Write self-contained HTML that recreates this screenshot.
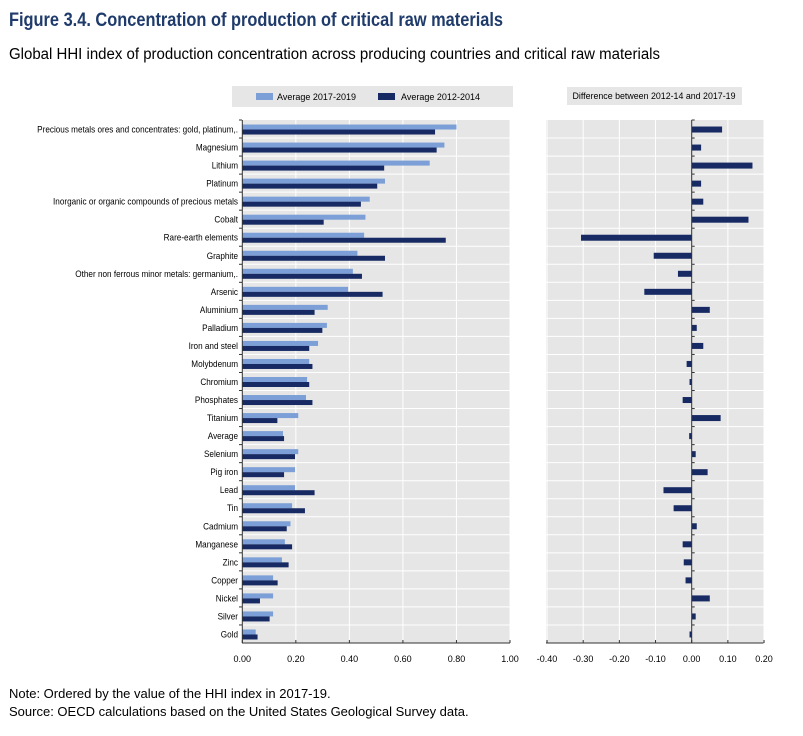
<!DOCTYPE html>
<html><head><meta charset="utf-8"><style>
body{margin:0;background:#fff;}
svg{display:block;font-family:"Liberation Sans",Arial,sans-serif;}
</style></head><body>
<svg id="chart" width="803" height="736" viewBox="0 0 803 736">
<text x="9" y="26" font-size="19" font-weight="bold" fill="#1f3b6b" textLength="494" lengthAdjust="spacingAndGlyphs">Figure 3.4. Concentration of production of critical raw materials</text>
<text x="9" y="59" font-size="15.5" fill="#000" textLength="651" lengthAdjust="spacingAndGlyphs">Global HHI index of production concentration across producing countries and critical raw materials</text>
<rect x="232" y="86" width="281" height="21" fill="#e6e6e6"/>
<rect x="256" y="93" width="17" height="7" fill="#7b9fd6"/>
<text x="277" y="100" font-size="9" textLength="79" lengthAdjust="spacingAndGlyphs">Average 2017-2019</text>
<rect x="378" y="93" width="17" height="7" fill="#172a63"/>
<text x="401" y="100" font-size="9" textLength="79" lengthAdjust="spacingAndGlyphs">Average 2012-2014</text>
<rect x="567" y="87" width="175" height="18" fill="#e6e6e6"/>
<text x="654" y="99" font-size="9" text-anchor="middle" textLength="163" lengthAdjust="spacingAndGlyphs">Difference between 2012-14 and 2017-19</text>
<g id="left"></g>
<g id="right"></g>
<text x="9" y="698" font-size="13">Note: Ordered by the value of the HHI index in 2017-19.</text>
<text x="9" y="716" font-size="13">Source: OECD calculations based on the United States Geological Survey data.</text>
</svg>
<script>
const categories = ["Precious metals ores and concentrates: gold, platinum,.","Magnesium","Lithium","Platinum","Inorganic or organic compounds of precious metals","Cobalt","Rare-earth elements","Graphite","Other non ferrous minor metals: germanium,.","Arsenic","Aluminium","Palladium","Iron and steel","Molybdenum","Chromium","Phosphates","Titanium","Average","Selenium","Pig iron","Lead","Tin","Cadmium","Manganese","Zinc","Copper","Nickel","Silver","Gold"];
const avg2017_2019 = [0.80,0.755,0.70,0.533,0.476,0.46,0.455,0.43,0.413,0.395,0.319,0.316,0.283,0.25,0.242,0.238,0.209,0.152,0.209,0.197,0.197,0.186,0.18,0.159,0.148,0.115,0.115,0.115,0.05];
const avg2012_2014 = [0.72,0.726,0.53,0.504,0.443,0.304,0.76,0.533,0.447,0.524,0.27,0.299,0.25,0.262,0.25,0.262,0.131,0.156,0.197,0.156,0.27,0.234,0.166,0.186,0.173,0.132,0.066,0.102,0.057];
const difference = [0.084,0.026,0.168,0.026,0.032,0.157,-0.306,-0.105,-0.038,-0.131,0.05,0.014,0.032,-0.014,-0.006,-0.025,0.08,-0.007,0.011,0.044,-0.078,-0.05,0.014,-0.025,-0.022,-0.017,0.05,0.011,-0.006];
const leftTicks = [0,0.2,0.4,0.6,0.8,1.0];
const rightTicks = [-0.4,-0.3,-0.2,-0.1,0,0.1,0.2];

const NS="http://www.w3.org/2000/svg";
function mk(parent,tag,attrs){const e=document.createElementNS(NS,tag);for(const k in attrs)e.setAttribute(k,attrs[k]);parent.appendChild(e);return e;}
const top0=120, bottom0=643, rowH=(bottom0-top0)/categories.length;
const xL=v=>242.3+v*267.7;
const xR=v=>691.7+v*361.7;
const yRow=i=>top0+i*rowH;
const L=document.getElementById('left'), R=document.getElementById('right');

// backgrounds
let bg=mk(L,'rect',{x:242,y:top0,width:268,height:bottom0-top0,fill:'#e6e6e6'});


bg=mk(R,'rect',{x:546,y:top0,width:217.5,height:bottom0-top0,fill:'#e6e6e6'});



// grid
leftTicks.forEach(t=>{if(t>0){const g=mk(L,'line',{x1:xL(t),x2:xL(t),y1:top0,y2:bottom0,stroke:'#fff','stroke-width':1});

}});
rightTicks.forEach(t=>{if(t!==0){const g=mk(R,'line',{x1:xR(t),x2:xR(t),y1:top0,y2:bottom0,stroke:'#fff','stroke-width':1});

}});
for(let i=1;i<categories.length;i++){
  let g=mk(L,'line',{x1:242,x2:510,y1:yRow(i),y2:yRow(i),stroke:'#fff','stroke-width':1});
  
  
  g=mk(R,'line',{x1:546,x2:763.5,y1:yRow(i),y2:yRow(i),stroke:'#fff','stroke-width':1});
  
  
}

// bars & labels
categories.forEach((c,i)=>{
  const yc=yRow(i)+rowH/2+0.5;
  let b=mk(L,'rect',{x:xL(0),y:yc-5,width:xL(avg2017_2019[i])-xL(0),height:5,fill:'#7b9fd6'});
  
  
  b=mk(L,'rect',{x:xL(0),y:yc,width:xL(avg2012_2014[i])-xL(0),height:5,fill:'#172a63'});
  
  
  const d=difference[i];
  b=mk(R,'rect',{x:Math.min(xR(0),xR(d)),y:yc-3,width:Math.abs(xR(d)-xR(0)),height:6,fill:'#172a63'});
  
  
  const g=mk(L,'g',{transform:`translate(238,${yc+3}) scale(0.86,1)`});
  const t=mk(g,'text',{x:0,y:0,'font-size':9.5,'text-anchor':'end',fill:'#000'});
  t.textContent=c;
  
  
  let tk=mk(L,'line',{x1:239,x2:242,y1:yRow(i),y2:yRow(i),stroke:'#333'});
  
  
  tk=mk(R,'line',{x1:xR(0),x2:xR(0)+3,y1:yRow(i),y2:yRow(i),stroke:'#333'});
  
  
});

// axes
let ax=mk(L,'line',{x1:242.3,x2:242.3,y1:top0,y2:bottom0,stroke:'#333'});


ax=mk(L,'line',{x1:242,x2:510,y1:bottom0,y2:bottom0,stroke:'#333'});


ax=mk(R,'line',{x1:xR(0),x2:xR(0),y1:top0,y2:bottom0,stroke:'#333'});


ax=mk(R,'line',{x1:546,x2:763.5,y1:bottom0,y2:bottom0,stroke:'#333'});



leftTicks.forEach(t=>{
  const tk=mk(L,'line',{x1:xL(t),x2:xL(t),y1:bottom0-3,y2:bottom0,stroke:'#333'});
  
  
  const tx=mk(L,'text',{x:xL(t),y:662,'font-size':9,'text-anchor':'middle'});
  tx.textContent=t.toFixed(2);
  
  
});
rightTicks.forEach(t=>{
  const tk=mk(R,'line',{x1:xR(t),x2:xR(t),y1:bottom0-3,y2:bottom0,stroke:'#333'});
  
  
  const tx=mk(R,'text',{x:xR(t),y:662,'font-size':9,'text-anchor':'middle'});
  tx.textContent=(Math.abs(t)<1e-9?0:t).toFixed(2);
  
  
});
</script>
</body></html>
